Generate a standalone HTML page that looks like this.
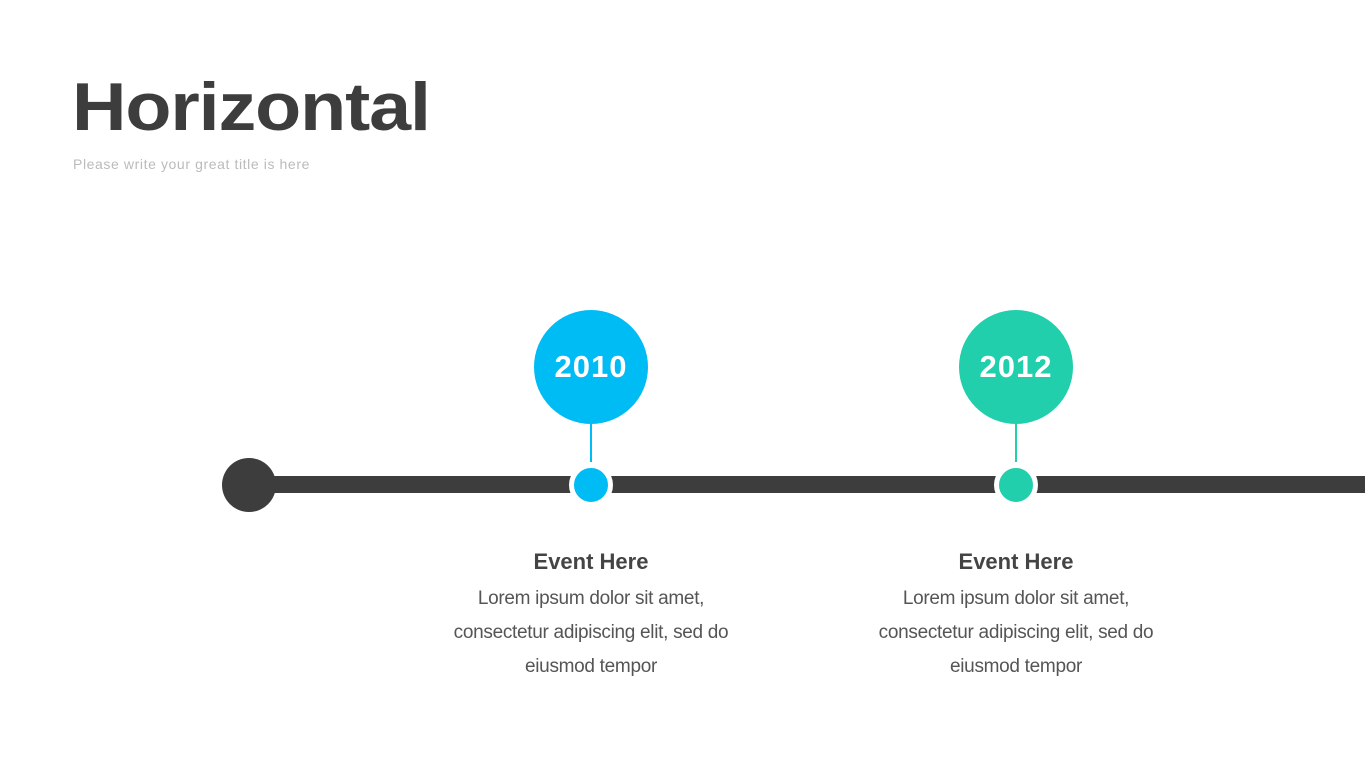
<!DOCTYPE html>
<html><head><style>
html,body{margin:0;padding:0;background:#fff;width:1365px;height:768px;overflow:hidden;position:relative;font-family:"Liberation Sans",sans-serif}
.t{position:absolute;white-space:nowrap}
.big{position:absolute;width:114px;height:114px;border-radius:50%;color:#fff;font-weight:bold;font-size:31px;text-align:center;line-height:114px;letter-spacing:1px}
.dot{position:absolute;width:34px;height:34px;border-radius:50%;border:5px solid #fff}
.stem{position:absolute;width:2px;height:38px}
.ev{position:absolute;width:320px;text-align:center;color:#444}
.ev b{display:block;font-size:22px;line-height:28px;margin-bottom:6px}
.ev p{margin:0;font-size:19px;line-height:34px;color:#555;letter-spacing:-0.3px}
</style></head><body>
<div class="t" style="left:72px;top:68px;font-size:68px;font-weight:bold;color:#3d3d3d;letter-spacing:-1px;transform:scaleX(1.11);transform-origin:0 0">Horizontal</div>
<div class="t" style="left:73px;top:156px;font-size:14px;color:#bbb;letter-spacing:0.6px">Please write your great title is here</div>
<div style="position:absolute;left:249px;top:476px;width:1116px;height:17px;background:#3d3d3d"></div>
<div style="position:absolute;left:222px;top:458px;width:54px;height:54px;border-radius:50%;background:#3d3d3d"></div>

<div class="big" style="left:534px;top:310px;background:#00bcf5">2010</div>
<div class="stem" style="left:590px;top:424px;background:#00bcf5"></div>
<div class="dot" style="left:569px;top:463px;background:#00bcf5"></div>
<div class="ev" style="left:431px;top:548px"><b>Event Here</b><p>Lorem ipsum dolor sit amet,</p><p>consectetur adipiscing elit, sed do</p><p>eiusmod tempor</p></div>

<div class="big" style="left:959px;top:310px;background:#22cfac">2012</div>
<div class="stem" style="left:1015px;top:424px;background:#22cfac"></div>
<div class="dot" style="left:994px;top:463px;background:#22cfac"></div>
<div class="ev" style="left:856px;top:548px"><b>Event Here</b><p>Lorem ipsum dolor sit amet,</p><p>consectetur adipiscing elit, sed do</p><p>eiusmod tempor</p></div>
</body></html>
